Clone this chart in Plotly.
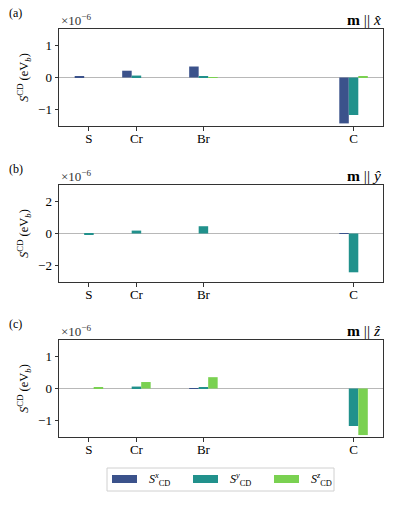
import plotly.graph_objects as go
from plotly.subplots import make_subplots

# atoms and their positions along the axis
atoms = ["S", "Cr", "Br", "C"]
atom_pos = [0.0, 1.0, 2.41, 5.57]

# S^CD components (units of 1e-6 eV_b), one block per magnetisation direction
mx_sx = [0.03, 0.21, 0.34, -1.42]
mx_sy = [0.0, 0.06, 0.02, -1.16]
mx_sz = [0.0, 0.0, 0.01, 0.03]

my_sx = [0.0, 0.0, 0.0, 0.01]
my_sy = [-0.08, 0.18, 0.45, -2.40]
my_sz = [0.0, 0.0, 0.0, 0.0]

mz_sx = [0.0, 0.0, 0.01, 0.0]
mz_sy = [0.0, 0.06, 0.02, -1.16]
mz_sz = [0.02, 0.20, 0.35, -1.44]

panel_labels = ["(a)", "(b)", "(c)"]
panel_dirs = ["x̂", "ŷ", "ẑ"]
y_ranges = [[-1.5, 1.5], [-3.0, 3.0], [-1.5, 1.5]]
y_ticks = [[-1, 0, 1], [-2, 0, 2], [-1, 0, 1]]

series_names = ["<i>S</i><sup><i>x</i></sup><sub>CD</sub>",
                "<i>S</i><sup><i>y</i></sup><sub>CD</sub>",
                "<i>S</i><sup><i>z</i></sup><sub>CD</sub>"]
colors = ["#3b528b", "#21918c", "#7ad151"]

FONT = "Liberation Serif"

panels = [(mx_sx, mx_sy, mx_sz), (my_sx, my_sy, my_sz), (mz_sx, mz_sy, mz_sz)]

fig = make_subplots(rows=3, cols=1)

for r, comps in enumerate(panels, start=1):
    for k, vals in enumerate(comps):
        fig.add_trace(go.Bar(
            x=atom_pos, y=vals, name=series_names[k],
            marker=dict(color=colors[k], line=dict(width=0)),
            showlegend=False,
        ), row=r, col=1)

W, H = 397, 510
x0, x1 = 59, 383
tops = [29, 185, 340]
bottoms = [126, 282, 437]

layout = dict(
    width=W, height=H,
    margin=dict(l=0, r=0, t=0, b=0),
    paper_bgcolor="white", plot_bgcolor="white",
    barmode="group", bargap=0.4, bargroupgap=0,
    font=dict(family=FONT, size=12, color="black"),
    showlegend=False,
)

annotations = []
shapes = []
for i in range(3):
    xa = "xaxis" if i == 0 else f"xaxis{i + 1}"
    ya = "yaxis" if i == 0 else f"yaxis{i + 1}"
    layout[xa] = dict(
        domain=[x0 / W, x1 / W], range=[-0.63, 6.19],
        tickmode="array", tickvals=atom_pos, ticktext=atoms,
        ticks="outside", ticklen=3.5, tickcolor="#333",
        showline=True, linecolor="#333", linewidth=1, mirror=True,
        showgrid=False, zeroline=False, tickfont=dict(size=13, family=FONT),
    )
    layout[ya] = dict(
        domain=[1 - bottoms[i] / H, 1 - tops[i] / H], range=y_ranges[i],
        tickmode="array", tickvals=y_ticks[i],
        ticktext=[("−" + str(-t)) if t < 0 else str(t) for t in y_ticks[i]],
        ticks="outside", ticklen=3.5, tickcolor="#333",
        showline=True, linecolor="#333", linewidth=1, mirror=True,
        showgrid=False, zeroline=True, zerolinecolor="#b8b8b8", zerolinewidth=1.2,
        tickfont=dict(size=13, family=FONT),
        title=dict(text="<i>S</i><sup>CD</sup> (eV<sub><i>b</i></sub>)", standoff=6,
                   font=dict(size=12.5, family=FONT)),
    )
    y_top = 1 - tops[i] / H
    annotations.append(dict(text=panel_labels[i], xref="paper", yref="paper",
                            x=7 / W, y=y_top + 16 / H, xanchor="left", yanchor="middle",
                            showarrow=False, font=dict(size=12, family=FONT)))
    annotations.append(dict(text="×10<sup>−6</sup>", xref="paper", yref="paper",
                            x=x0 / W, y=y_top - 1 / H, xanchor="left", yanchor="bottom",
                            showarrow=False, font=dict(size=13, family=FONT, color="#333")))
    annotations.append(dict(text="<b>m</b> || <i>" + panel_dirs[i] + "</i>",
                            xref="paper", yref="paper",
                            x=x1 / W, y=y_top - 1 / H, xanchor="right", yanchor="bottom",
                            showarrow=False, font=dict(size=15.5, family=FONT)))

# legend drawn by hand so the patches are wide rectangles like the original
shapes.append(dict(type="rect", xref="paper", yref="paper",
                   x0=107 / W, x1=334 / W, y0=1 - 491 / H, y1=1 - 468 / H,
                   line=dict(color="#d0d0d0", width=1), fillcolor="white"))
patch_x = [112, 193, 274]
for k in range(3):
    px = patch_x[k]
    shapes.append(dict(type="rect", xref="paper", yref="paper",
                       x0=px / W, x1=(px + 25) / W, y0=1 - 483 / H, y1=1 - 475 / H,
                       line=dict(width=0), fillcolor=colors[k]))
    annotations.append(dict(text=series_names[k], xref="paper", yref="paper",
                            x=(px + 35) / W, y=1 - 479.5 / H, xanchor="left", yanchor="middle",
                            showarrow=False, font=dict(size=12, family=FONT)))

layout["annotations"] = annotations
layout["shapes"] = shapes
fig.update_layout(**layout)

# pull the atom labels a little closer to the axis
try:
    fig.update_xaxes(ticklabelstandoff=-3)
except ValueError:
    pass

# drop the default page margin so the figure sits at the window's corner
fig.write_html("out.html", config={"displayModeBar": False},
               post_script="document.body.style.margin='0';")
